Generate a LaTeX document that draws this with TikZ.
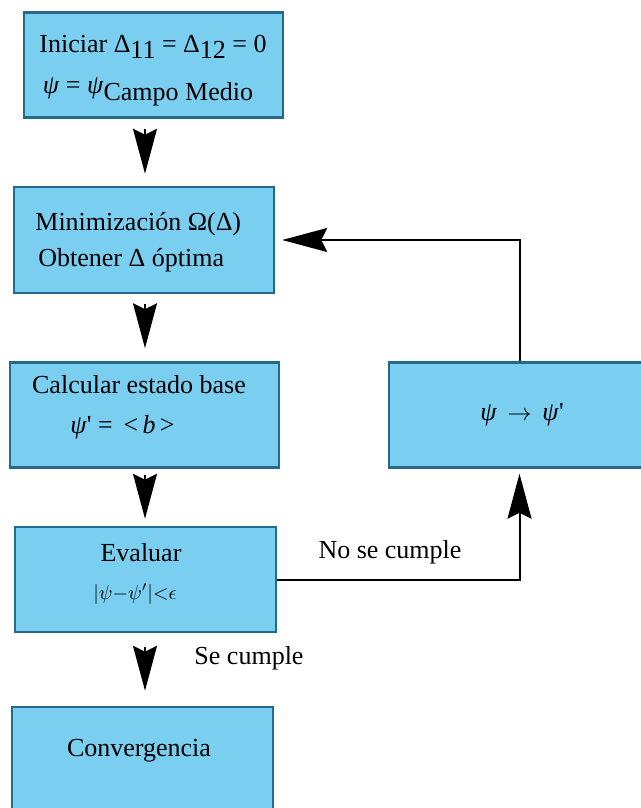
\documentclass[tikz,border=0pt]{standalone}
\usepackage{fontspec}
\setmainfont{Liberation Serif}
\usetikzlibrary{arrows.meta}

\definecolor{boxfill}{RGB}{122,206,240}
\definecolor{boxline}{RGB}{37,105,140}

\tikzset{
  box/.style={draw=boxline, fill=boxfill, line width=1.25pt, minimum width=#1, minimum height=52.5pt, inner sep=0pt},
  txt/.style={inner sep=0pt, font=\fontsize{13}{15}\selectfont},
  flow/.style={line width=1pt, -{Stealth[length=22.5pt, width=12pt, inset=3pt]}},
}

\begin{document}
\begin{tikzpicture}[x=0.5pt, y=-0.5pt]
      \useasboundingbox (0,0) rectangle (641,808);
      \clip (0,0) rectangle (641,808);
      % boxes
      \node[box=129.5pt] (init) at (153.5,65) {};
      \node[box=130pt, minimum height=53pt] (minim) at (144,240) {};
      \node[box=134.5pt] (calc) at (144.5,415) {};
      \node[box=130.5pt] (upd) at (519.5,415) {};
      \node[box=130.5pt] (eval) at (145.5,579.5) {};
      \node[box=130.5pt] (conv) at (142.5,759.5) {};
      \coordinate (col) at (145,0);
      % texts
      \draw
        (153,47) node[txt] (initA) {Iniciar Δ\raisebox{-0.25em}{11} = Δ\raisebox{-0.25em}{12} = 0}
        (148,92) node[txt] (initB) {\textit{ψ} = \textit{ψ}\raisebox{-0.3em}{Campo Medio}}
        (35,224) node[txt, anchor=west] (minA) {Minimización Ω(Δ)}
        (38,260) node[txt, anchor=west] (minB) {Obtener Δ óptima}
        (139,385) node[txt] (calcA) {Calcular estado base}
        (70,427) node[txt, anchor=west] (calcB) {\textit{ψ}\textquotesingle{} = \,<\,\textit{b}\,>}
        (522,415) node[txt] (updT) {\textit{ψ} \,$\to$\, \textit{ψ}\textquotesingle}
        (141,553) node[txt] (evalA) {Evaluar}
        (135,594) node[txt, font=\fontsize{10}{12}\selectfont] (evalB) {$|\psi{-}\psi'|{<}\epsilon$}
        (139,751) node[txt] (convT) {Convergencia}
        (390,552) node[txt] (no) {No se cumple}
        (249,658) node[txt] (se) {Se cumple};
      % connectors
      \draw[flow, shorten <=5pt, shorten >=6pt] (init.south -| col) -- (minim.north -| col);
      \draw[flow, shorten <=5pt, shorten >=6.5pt] (minim.south -| col) -- (calc.north -| col);
      \draw[flow, shorten <=3pt, shorten >=3.5pt] (calc.south -| col) -- (eval.north -| col);
      \draw[flow, shorten <=7pt, shorten >=7.5pt] (eval.south -| col) -- (conv.north -| col);
      \draw[flow, shorten >=3.5pt] (upd.north) |- (minim.east);
      \draw[flow, shorten >=2.5pt] (eval.east) -| (upd.south);
    \end{tikzpicture}
\end{document}
